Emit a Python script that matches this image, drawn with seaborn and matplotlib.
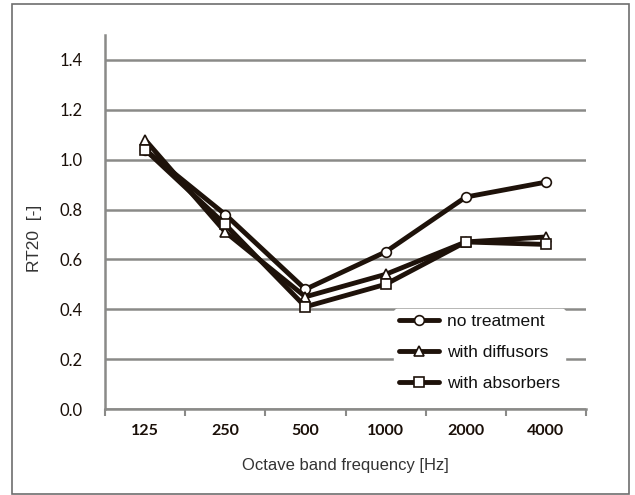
import matplotlib
matplotlib.use("Agg")
import matplotlib.pyplot as plt
import seaborn as sns
import pandas as pd
from matplotlib.patches import Rectangle

freqs = ["125", "250", "500", "1000", "2000", "4000"]
no_treatment = [1.04, 0.78, 0.48, 0.63, 0.85, 0.91]
with_diffusors = [1.08, 0.71, 0.45, 0.54, 0.67, 0.69]
with_absorbers = [1.04, 0.74, 0.41, 0.50, 0.67, 0.66]
series_names = ["no treatment", "with diffusors", "with absorbers"]
y_ticks = [0.0, 0.2, 0.4, 0.6, 0.8, 1.0, 1.2, 1.4]

sns.set_theme(style="white")
plt.rcParams["font.family"] = ["Liberation Sans", "DejaVu Sans"]

rows = []
for name, vals in zip(series_names, [no_treatment, with_diffusors, with_absorbers]):
    for i, (f, v) in enumerate(zip(freqs, vals)):
        rows.append({"idx": i, "freq": f, "value": v, "series": name})
df = pd.DataFrame(rows)

fig = plt.figure(figsize=(6.35, 4.95), dpi=100)
ax = fig.add_axes([105/635, 1-409/495, 481/635, (409-35)/495])

line_col = "#1e120a"
grid_col = "#8a8a88"
markers = {"no treatment": "o", "with diffusors": "^", "with absorbers": "s"}
msize = {"no treatment": 7, "with diffusors": 7.5, "with absorbers": 7.5}

for name in series_names:
    sub = df[df["series"] == name]
    sns.lineplot(data=sub, x="idx", y="value", ax=ax, color=line_col,
                 linewidth=3.5, marker=markers[name], markersize=msize[name],
                 markerfacecolor="white", markeredgecolor=line_col,
                 markeredgewidth=1.2, label=name, zorder=3)

ax.set_xlim(-0.5, 5.5)
ax.set_ylim(0, 1.5)
ax.set_yticks(y_ticks)
ax.set_yticklabels([f"{t:.1f}" for t in y_ticks], family=["Lato", "DejaVu Sans"],
                   fontsize=12, color="#1a0f08")
ax.set_xticks(range(len(freqs)))
ax.set_xticklabels(freqs, family=["Lato", "DejaVu Sans"], fontsize=11.5,
                   fontweight="bold", color="#1a0f08")
ax.set_xticks([i - 0.5 for i in range(len(freqs) + 1)], minor=True)
ax.tick_params(axis="x", which="major", length=0, pad=11)
ax.tick_params(axis="x", which="minor", length=5, width=1.5, color=grid_col, direction="out")
ax.tick_params(axis="y", which="major", length=6, width=1.5, color=grid_col, direction="out", pad=10)
ax.tick_params(axis="x", which="minor", bottom=True)

ax.yaxis.grid(True, color=grid_col, linewidth=1.8)
ax.xaxis.grid(False)
ax.set_axisbelow(True)
for s in ["top", "right"]:
    ax.spines[s].set_visible(False)
for s in ["left", "bottom"]:
    ax.spines[s].set_color(grid_col)
    ax.spines[s].set_linewidth(1.8)

ax.set_xlabel("Octave band frequency [Hz]", fontsize=12, color="#333333", labelpad=14)
ax.set_ylabel("RT20  [-]", fontsize=12.5, color="#333333")
ax.yaxis.set_label_coords((42 - 105) / 481, (409 - 238) / 374)

leg = ax.legend(loc="upper left", bbox_to_anchor=(289/481, (409-309)/374),
                frameon=True, facecolor="white", edgecolor="white", framealpha=1,
                fontsize=12.5, handlelength=2.3, labelspacing=0.9, handletextpad=0.45,
                borderpad=0.3, borderaxespad=0)
for t in leg.get_texts():
    t.set_color("#111111")
leg.set_zorder(5)

fig.patches.append(Rectangle((12/635, 1-494/495), (629-12)/635, (494-4)/495,
                             transform=fig.transFigure, fill=False,
                             edgecolor="#6e6e6e", linewidth=1.2))

fig.savefig("out.png", dpi=100)
